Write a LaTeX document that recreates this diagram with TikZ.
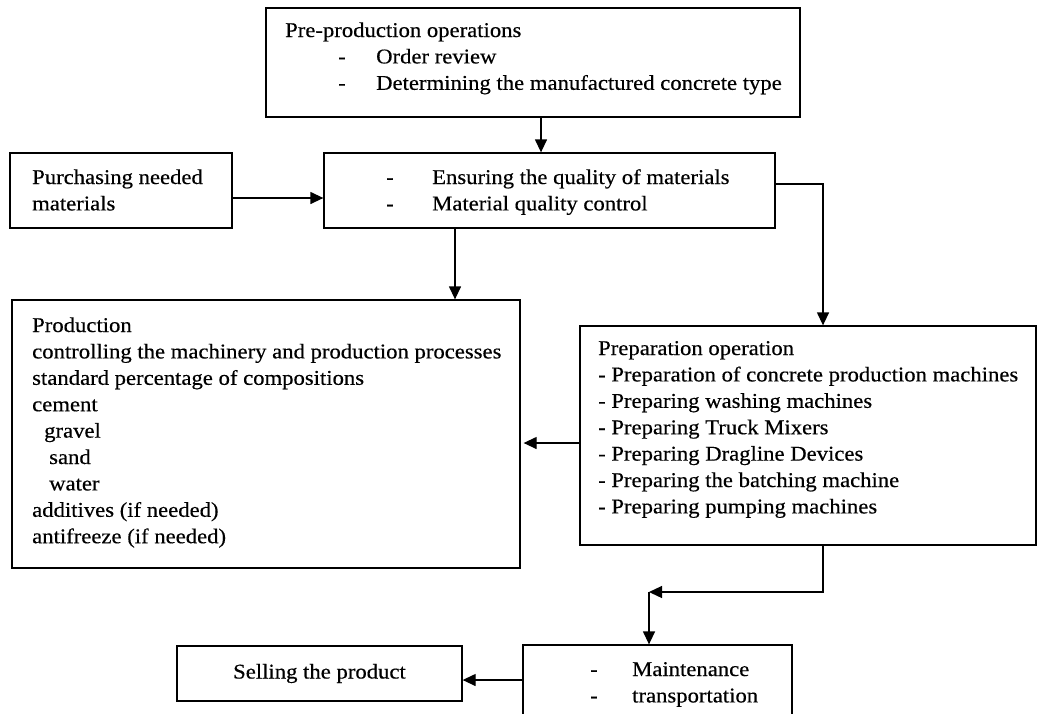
\documentclass[tikz,border=0pt]{standalone}
\usepackage{fontspec}
\setmainfont{Liberation Serif}[FakeStretch=1.08, FakeBold=0.4]
\usetikzlibrary{arrows.meta}
\newcommand\boxlines[1]{\begin{tabular}[t]{@{}l@{}}#1\end{tabular}}
\newcommand\dashitem[2]{\makebox[#1][l]{-}#2}
\begin{document}
\begin{tikzpicture}[x=1pt,y=-1pt,
  box/.style={draw, line width=1.3pt, inner sep=0pt, rectangle},
  txt/.style={anchor=base west, inner sep=0pt, font=\fontsize{21}{26.4}\selectfont},
  arr/.style={line width=1.3pt, -{Triangle[length=13pt,width=12pt]}},
  ln/.style={line width=1.3pt}]
\useasboundingbox (0,0) rectangle (1040,713);
% boxes
\node[box, minimum width=534pt, minimum height=109pt] (pre) at (533,62.5) {};
\node[box, minimum width=222pt, minimum height=75pt] (purch) at (121,190.5) {};
\node[box, minimum width=451pt, minimum height=75pt] (qual) at (549.5,190.5) {};
\node[box, minimum width=508pt, minimum height=268pt] (prod) at (266,434) {};
\node[box, minimum width=456pt, minimum height=219pt] (prep) at (808,435.5) {};
\node[box, minimum width=269pt, minimum height=75pt] (maint) at (657.5,682.5) {};
\node[box, minimum width=285pt, minimum height=55pt, font=\fontsize{21}{26.4}\selectfont] (sell) at (319.5,673.5) {Selling the product};
% texts
\node[txt] (pretxt) at (285,37) {\boxlines{Pre-production operations\\
  \hspace*{53pt}\dashitem{38pt}{Order review}\\
  \hspace*{53pt}\dashitem{38pt}{Determining the manufactured concrete type}}};
\node[txt] (purchtxt) at (32,184) {\boxlines{Purchasing needed\\materials}};
\node[txt] (qualtxt) at (386,184) {\boxlines{\dashitem{46pt}{Ensuring the quality of materials}\\
  \dashitem{46pt}{Material quality control}}};
\node[txt] (prodtxt) at (32,332) {\boxlines{Production\\
  controlling the machinery and production processes\\
  standard percentage of compositions\\
  cement\\
  \hspace*{12pt}gravel\\
  \hspace*{17pt}sand\\
  \hspace*{17pt}water\\
  additives (if needed)\\
  antifreeze (if needed)}};
\node[txt] (preptxt) at (598,355) {\boxlines{Preparation operation\\
  - Preparation of concrete production machines\\
  - Preparing washing machines\\
  - Preparing Truck Mixers\\
  - Preparing Dragline Devices\\
  - Preparing the batching machine\\
  - Preparing pumping machines}};
\node[txt] (mainttxt) at (590,676) {\boxlines{\dashitem{42pt}{Maintenance}\\
  \dashitem{42pt}{transportation}}};
% connectors
\draw[arr] ([xshift=8pt]pre.south) -- ([xshift=8pt]pre.south |- qual.north);
\draw[arr] ([yshift=-7.5pt]purch.east) -- ([yshift=-7.5pt]purch.east -| qual.west);
\draw[arr] ([xshift=-94.5pt]qual.south) -- ([xshift=-94.5pt]qual.south |- prod.north);
\draw[arr] ([yshift=6.5pt]qual.east) -| ([xshift=15pt]prep.north);
\draw[arr, shorten >=3pt] ([yshift=-7.5pt]prep.west) -- ([yshift=-7.5pt]prep.west -| prod.east);
\coordinate (bend) at (649,592);
\draw[arr] ([xshift=15pt]prep.south) |- (bend);
\draw[arr] (bend) -- (bend |- maint.north);
\draw[arr] ([yshift=2.5pt]maint.west) -- ([yshift=2.5pt]maint.west -| sell.east);
\end{tikzpicture}
\end{document}
